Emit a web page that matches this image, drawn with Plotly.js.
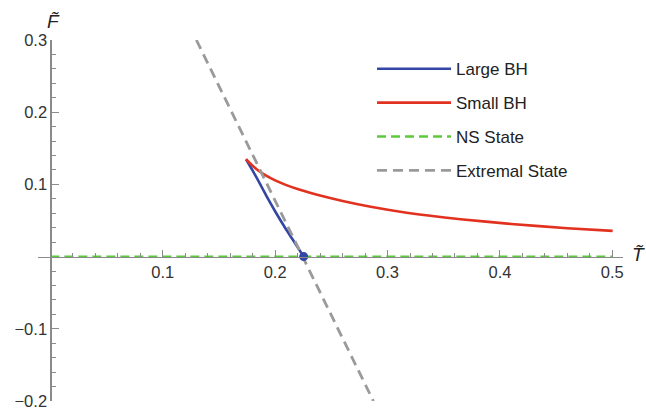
<!DOCTYPE html>
<html>
<head>
<meta charset="utf-8">
<script src="https://cdn.plot.ly/plotly-3.0.1.min.js"></script>
<style>html,body{margin:0;padding:0;background:#fff;}#chart{width:646px;height:411px;}</style>
</head>
<body>
<div id="chart"></div>
<script>
// Large BH branch
const largeT = [0.1741, 0.1800, 0.1870, 0.1942, 0.2010, 0.2080, 0.2150, 0.2254];
const largeF = [0.1348, 0.1190, 0.0995, 0.0785, 0.0600, 0.0420, 0.0250, 0.0000];
// Small BH branch
const smallT = [0.1741, 0.1790, 0.1850, 0.1920, 0.2000, 0.2100, 0.2220, 0.2400, 0.2600, 0.2850, 0.3170, 0.3650, 0.4100, 0.4600, 0.5003];
const smallF = [0.1348, 0.1272, 0.1192, 0.1120, 0.1055, 0.0990, 0.0925, 0.0845, 0.0770, 0.0690, 0.0608, 0.0518, 0.0452, 0.0393, 0.0356];
// NS state
const nsT = [0.0, 0.5];
const nsF = [0.0, 0.0];
// Extremal state
const extT = [0.1299, 0.2874];
const extF = [0.3, -0.2];
// Critical point
const ptT = [0.2254];
const ptF = [0.0];
// Ticks
const xTicks = [0.1, 0.2, 0.3, 0.4, 0.5];
const xTickText = ["0.1", "0.2", "0.3", "0.4", "0.5"];
const yTicks = [-0.2, -0.1, 0.1, 0.2, 0.3];
const yTickText = ["\u22120.2", "\u22120.1", "0.1", "0.2", "0.3"];

const xRange = [-0.011, 0.5095];
const yRange = [-0.2, 0.3];

const xMinor = [], yMinor = [];
for (let i = 1; i <= 25; i++) xMinor.push(+(i * 0.02).toFixed(2));
for (let i = -10; i <= 15; i++) if (i !== 0) yMinor.push(+(i * 0.02).toFixed(2));

const traces = [
  {x: largeT, y: largeF, mode: 'lines', name: 'Large BH', legendgroup: 'a',
   line: {color: '#3446a4', width: 2.6, shape: 'spline', smoothing: 0.8}, hoverinfo: 'skip'},
  {x: smallT, y: smallF, mode: 'lines', name: 'Small BH', legendgroup: 'b',
   line: {color: '#e2321f', width: 2.6, shape: 'spline', smoothing: 0.5}, hoverinfo: 'skip'},
  {x: nsT, y: nsF, mode: 'lines', name: 'NS State', legendgroup: 'c',
   line: {color: '#5cca3c', width: 2.4, dash: '9px,5px'}, hoverinfo: 'skip'},
  {x: extT, y: extF, mode: 'lines', name: 'Extremal State', legendgroup: 'd',
   line: {color: '#9a9a9a', width: 2.8, dash: '10px,6px'}, hoverinfo: 'skip'},
  {x: ptT, y: ptF, mode: 'markers', showlegend: false,
   marker: {color: '#3446a4', size: 9}, hoverinfo: 'skip'}
];

const xPos = (0 - yRange[0]) / (yRange[1] - yRange[0]);
const yPos = (0 - xRange[0]) / (xRange[1] - xRange[0]);

const axisColor = '#8a8a8a';
const fam = 'Liberation Sans, Arial, sans-serif';
const tickFont = {family: fam, size: 16.5, color: '#333'};

const layout = {
  width: 646, height: 411,
  margin: {l: 37.6, r: 23.3, t: 40.4, b: 9.6},
  paper_bgcolor: '#fff', plot_bgcolor: '#fff',
  showlegend: true,
  legend: {x: 0.571, y: 0.969, xanchor: 'left', yanchor: 'top',
           font: {family: fam, size: 17, color: '#222'},
           traceorder: 'grouped', tracegroupgap: 8.8, itemwidth: 74,
           bgcolor: 'rgba(0,0,0,0)'},
  xaxis: {range: xRange, anchor: 'free', position: xPos,
          showgrid: false, zeroline: false, showline: true, linecolor: axisColor, linewidth: 1.2,
          tickmode: 'array', tickvals: xTicks, ticktext: xTickText,
          ticks: 'inside', ticklen: 7, tickwidth: 1, tickcolor: axisColor,
          tickfont: tickFont, ticklabeloverflow: 'allow',
          minor: {tickmode: 'array', tickvals: xMinor, ticks: 'inside', ticklen: 4, tickcolor: axisColor, tickwidth: 1, showgrid: false}},
  yaxis: {range: yRange, anchor: 'free', position: yPos,
          showgrid: false, zeroline: false, showline: true, linecolor: axisColor, linewidth: 1.2,
          tickmode: 'array', tickvals: yTicks, ticktext: yTickText,
          ticks: 'inside', ticklen: 7, tickwidth: 1, tickcolor: axisColor,
          tickfont: tickFont, ticklabeloverflow: 'allow',
          minor: {tickmode: 'array', tickvals: yMinor, ticks: 'inside', ticklen: 4, tickcolor: axisColor, tickwidth: 1, showgrid: false}},
  annotations: [
    {text: 'F\u0303', xref: 'paper', yref: 'paper', x: yPos, y: 1, xanchor: 'center', yanchor: 'bottom',
     xshift: 3, yshift: 6, showarrow: false, font: {family: fam, size: 19, color: '#222', style: 'italic'}},
    {text: 'T\u0303', xref: 'paper', yref: 'paper', x: 1, y: xPos, xanchor: 'left', yanchor: 'middle',
     xshift: 7, yshift: 2, showarrow: false, font: {family: fam, size: 19, color: '#222', style: 'italic'}}
  ]
};

Plotly.newPlot('chart', traces, layout, {displayModeBar: false, staticPlot: true});
</script>
</body>
</html>
